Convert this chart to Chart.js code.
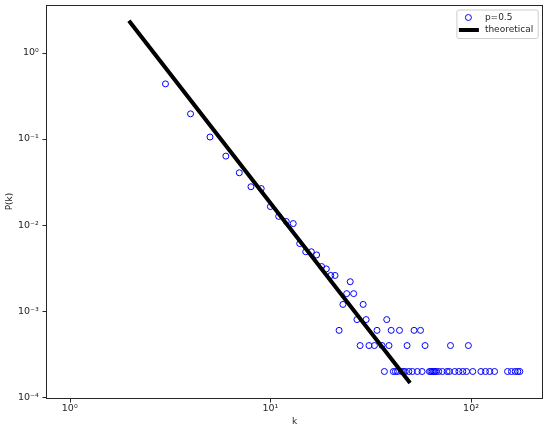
<!DOCTYPE html>
<html><head><meta charset="utf-8">
<script src="https://cdn.jsdelivr.net/npm/chart.js@4"></script>
<style>html,body{margin:0;padding:0;background:#fff}#wrap{width:550px;height:430px}</style>
</head><body><div id="wrap"><canvas id="c" width="550" height="430"></canvas></div>
<script>
// ---- data ----
const degreeK = [3,4,5,6,7,8,9,10,11,12,13,14,15,16,17,18,19,20,21,22,23,24,25,26,27,28,29,30,31,33,34,36,37,38,39,40,41,42,43,44,45,46,47,48,49,51,52,54,56,57,59,62,63,64,65,66,67,69,72,76,78,79,83,87,91,95,97,102,112,118,124,131,152,159,166,171,175];
const probP   = [0.434,0.195,0.105,0.063,0.0404,0.0278,0.0265,0.0164,0.0126,0.011,0.0104,0.0061,0.0049,0.0049,0.0045,0.0033,0.0031,0.0026,0.0026,0.0006,0.0012,0.0016,0.0022,0.0016,0.0008,0.0004,0.0012,0.0008,0.0004,0.0004,0.0006,0.0004,0.0002,0.0008,0.0004,0.0006,0.0002,0.0002,0.0002,0.0006,0.0002,0.0002,0.0002,0.0004,0.0002,0.0002,0.0006,0.0002,0.0006,0.0002,0.0004,0.0002,0.0002,0.0002,0.0002,0.0002,0.0002,0.0002,0.0002,0.0002,0.0002,0.0004,0.0002,0.0002,0.0002,0.0002,0.0004,0.0002,0.0002,0.0002,0.0002,0.0002,0.0002,0.0002,0.0002,0.0002,0.0002];
const theoryK = [2, 49];
const theoryP = [2.25, 0.000153];
const seriesLabels = ['p=0.5', 'theoretical'];
const xDecades = [0.1, 1, 10, 100];
const yDecades = [0.00001, 0.0001, 0.001, 0.01, 0.1, 1];
const xRange = [0.773, 225];
const yRange = [0.0000985, 3.57];

const SUP = {'0':'\u2070','1':'\u00b9','2':'\u00b2','3':'\u00b3','4':'\u2074','5':'\u2075','6':'\u2076','7':'\u2077','8':'\u2078','9':'\u2079','-':'\u207b'};
function decLabel(v){
  const e = Math.log10(v);
  const r = Math.round(e);
  if (Math.abs(e - r) > 1e-9) return null;
  return '10' + String(r).split('').map(c => SUP[c]).join('');
}
function buildTicks(decades, lo, hi){
  const out = [];
  decades.forEach(d => { for (let m = 1; m <= 9; m++){ const v = +(m*d).toPrecision(6); if (v >= lo && v <= hi) out.push({value:v}); } });
  return out;
}
const FONT = 'DejaVu Sans';
const INK = '#262626';

const axisPlugin = {
  id: 'axisDeco',
  afterDraw(chart){
    const ctx = chart.ctx, ca = chart.chartArea;
    ctx.save();
    ctx.strokeStyle = INK; ctx.lineWidth = 1;
    const xs = chart.scales.x, ys = chart.scales.y;
    const by = Math.round(ca.bottom) + 0.5, lx = Math.round(ca.left) - 0.5;
    xs.ticks.forEach(t => {
      const p = Math.round(xs.getPixelForValue(t.value)) + 0.5;
      const len = decLabel(t.value) ? 4 : 2;
      ctx.beginPath(); ctx.moveTo(p, by); ctx.lineTo(p, by + len); ctx.stroke();
    });
    ys.ticks.forEach(t => {
      const p = Math.round(ys.getPixelForValue(t.value)) + 0.5;
      const len = decLabel(t.value) ? 4 : 2;
      ctx.beginPath(); ctx.moveTo(lx, p); ctx.lineTo(lx - len, p); ctx.stroke();
    });
    ctx.strokeRect(Math.round(ca.left) - 0.5, Math.round(ca.top) + 0.5, Math.round(ca.right) - Math.round(ca.left) + 1, Math.round(ca.bottom) - Math.round(ca.top));
    // legend
    ctx.font = '9px "' + FONT + '"';
    const ds = chart.data.datasets;
    const tw = Math.max(...ds.map(d => ctx.measureText(d.label).width));
    const right = ca.right - 3.5, top = ca.top + 5;
    const w = 28 + tw + 5, h = 28.5, left = right - w;
    ctx.beginPath();
    if (ctx.roundRect) ctx.roundRect(left, top, w, h, 2); else ctx.rect(left, top, w, h);
    ctx.fillStyle = 'rgba(255,255,255,0.8)'; ctx.fill();
    ctx.strokeStyle = '#cccccc'; ctx.lineWidth = 1; ctx.stroke();
    const y1 = top + 7.5, y2 = top + 20;
    ctx.beginPath(); ctx.arc(left + 11.5, y1, 3, 0, Math.PI*2);
    ctx.strokeStyle = ds[0].pointBorderColor; ctx.lineWidth = 1; ctx.stroke();
    ctx.beginPath(); ctx.moveTo(left + 2, y2); ctx.lineTo(left + 22, y2);
    ctx.strokeStyle = ds[1].borderColor; ctx.lineWidth = 4; ctx.lineCap = 'butt'; ctx.stroke();
    ctx.fillStyle = INK; ctx.textBaseline = 'middle'; ctx.textAlign = 'left';
    ctx.fillText(ds[0].label, left + 28, y1);
    ctx.fillText(ds[1].label, left + 28, y2);
    ctx.restore();
  }
};

new Chart(document.getElementById('c').getContext('2d'), {
  type: 'scatter',
  data: {
    datasets: [
      { label: seriesLabels[0], data: degreeK.map((k,i) => ({x:k, y:probP[i]})),
        showLine: false, pointStyle: 'circle', pointRadius: 3, pointBorderWidth: 1,
        pointBorderColor: '#0000ff', pointBackgroundColor: 'rgba(0,0,0,0)', order: 2 },
      { label: seriesLabels[1], type: 'line', data: theoryK.map((k,i) => ({x:k, y:theoryP[i]})),
        showLine: true, borderColor: '#000000', borderWidth: 4, borderCapStyle: 'square',
        pointRadius: 0, fill: false, tension: 0, order: 1 }
    ]
  },
  options: {
    responsive: false, animation: false, devicePixelRatio: 1,
    layout: { padding: { top: 5, right: 8.3, left: 0, bottom: 0 } },
    plugins: { legend: { display: false }, tooltip: { enabled: false } },
    scales: {
      x: {
        type: 'logarithmic', position: 'bottom', min: xRange[0], max: xRange[1], bounds: 'data',
        grid: { display: false, drawTicks: false }, border: { display: false },
        afterBuildTicks(s){ s.ticks = buildTicks(xDecades, xRange[0], xRange[1]); },
        afterFit(s){ s.height = 32; s.paddingLeft = 0; s.paddingRight = 0; },
        ticks: { autoSkip: false, maxRotation: 0, minRotation: 0, padding: 5, color: INK,
                 font: { family: FONT, size: 9.5 }, callback: (v) => decLabel(v) },
        title: { display: true, text: 'k', color: INK, font: { family: FONT, size: 9 }, padding: { top: 0, bottom: 3 } }
      },
      y: {
        type: 'logarithmic', position: 'left', min: yRange[0], max: yRange[1], bounds: 'data',
        grid: { display: false, drawTicks: false }, border: { display: false },
        afterBuildTicks(s){ s.ticks = buildTicks(yDecades, yRange[0], yRange[1]); },
        afterFit(s){ s.width = 47.3; s.paddingTop = 0; s.paddingBottom = 0; },
        ticks: { autoSkip: false, padding: 8.5, color: INK,
                 font: { family: FONT, size: 9.5 }, callback: (v) => decLabel(v) },
        title: { display: true, text: 'P(k)', color: INK, font: { family: FONT, size: 9 }, padding: { top: 4, bottom: 0 } }
      }
    }
  },
  plugins: [axisPlugin]
});
</script>
</body></html>
